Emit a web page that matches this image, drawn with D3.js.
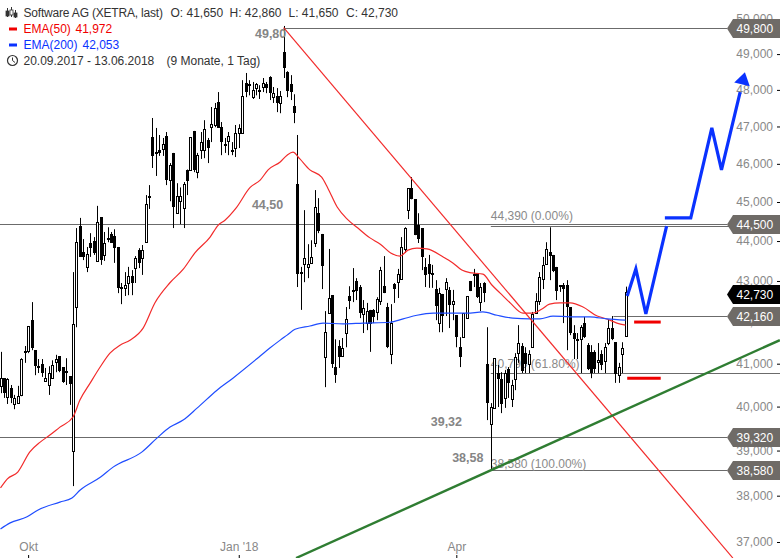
<!DOCTYPE html>
<html><head><meta charset="utf-8">
<script src="https://cdn.jsdelivr.net/npm/d3@7"></script>
<style>html,body{margin:0;padding:0;background:#fff}svg{display:block}text{font-family:"Liberation Sans",Arial,sans-serif;font-size:12px}</style>
</head><body><svg id="c" width="780" height="558"></svg>
<script>
const opens=[40.48,40.66,40.22,40.43,40.06,40.08,40.27,41.30,41.30,42.04,
41.32,40.94,40.99,40.59,40.50,40.66,41.04,41.18,40.92,40.83,
40.71,38.99,42.36,44.38,43.72,43.35,43.95,44.00,43.50,44.61,
43.65,44.08,44.18,44.12,43.85,42.85,42.83,42.95,43.12,43.32,
43.77,43.57,43.97,45.15,46.71,46.29,46.37,46.39,46.74,45.57,
46.29,44.71,45.02,44.84,45.85,45.85,46.88,45.78,46.37,46.37,
46.63,46.98,47.04,47.66,46.98,46.53,46.61,46.37,46.42,46.82,
46.82,48.19,48.16,47.80,48.05,47.99,48.08,48.16,48.36,47.80,
47.83,47.64,49.06,48.50,48.16,47.55,45.47,43.22,43.42,43.35,
43.45,43.95,44.71,44.18,41.15,42.21,42.65,40.92,41.42,41.18,
41.73,42.63,42.78,43.00,42.85,42.19,41.97,42.29,42.29,42.24,
42.50,42.87,42.36,41.23,42.92,42.97,43.05,43.80,44.79,45.36,
45.07,44.40,44.33,43.35,43.42,43.20,42.80,41.97,42.68,42.80,
42.78,42.43,42.16,41.39,41.63,42.09,43.00,43.17,43.20,42.48,
42.95,40.99,39.60,39.97,40.78,40.64,40.20,40.87,40.17,40.64,
41.25,41.42,41.25,40.99,41.39,42.21,42.50,43.05,43.42,43.72,
43.65,43.35,42.90,42.90,42.90,42.36,41.73,41.58,41.58,41.97,
41.44,41.28,41.28,41.04,41.23,41.06,41.49,41.85,41.51,40.73,41.23,41.65];
const highs=[41.28,40.66,40.66,40.50,40.27,40.48,41.13,41.42,41.90,42.48,
41.32,41.11,41.11,40.90,40.94,41.08,41.21,41.18,40.92,41.13,
40.71,43.22,44.33,44.59,44.05,43.85,44.20,44.10,44.90,44.61,
44.23,44.35,44.23,44.30,43.85,42.95,43.22,43.35,43.27,43.62,
43.82,43.90,45.18,45.44,47.23,46.96,46.77,46.69,46.85,46.02,
46.29,45.49,45.38,45.52,45.85,46.71,46.88,46.29,46.85,47.17,
46.69,47.53,47.64,47.94,47.12,46.69,46.85,46.58,47.04,47.06,
48.27,48.47,48.27,48.22,48.19,48.13,48.33,48.22,48.38,48.08,
48.05,47.97,49.80,48.52,48.41,47.88,46.77,43.35,44.79,43.92,
44.02,45.31,45.10,44.18,42.26,43.80,42.65,41.58,41.56,41.61,
42.36,42.87,43.32,43.07,42.90,42.53,42.46,42.29,42.31,42.60,
43.35,43.62,42.46,42.43,42.95,43.30,44.10,44.35,45.36,45.65,
45.07,44.71,44.33,43.57,43.65,43.40,43.02,42.83,42.68,43.07,
42.85,42.78,42.16,41.63,42.21,42.63,43.00,43.30,43.20,42.95,
42.97,41.87,40.08,41.13,40.97,40.80,40.85,40.92,40.62,41.25,
41.92,41.49,41.39,41.32,42.24,42.70,43.22,43.60,43.97,44.35,
43.65,43.35,42.90,42.95,43.02,42.36,41.92,41.73,41.92,42.12,
41.49,41.44,41.32,41.49,41.32,41.49,42.07,42.14,41.51,41.02,41.51,42.86];
const lows=[40.31,40.20,40.06,40.08,39.94,40.08,40.24,41.02,41.25,41.32,
40.73,40.78,40.69,40.59,40.27,40.66,40.80,40.80,40.55,40.50,
40.04,38.21,41.87,43.60,43.52,43.22,43.60,43.65,43.50,43.40,
43.50,43.97,43.95,43.45,42.70,42.43,42.63,42.65,42.65,42.95,
43.32,43.15,43.97,44.82,45.89,45.68,46.21,46.21,45.44,45.02,
44.33,44.71,44.43,44.33,45.18,45.85,45.78,45.62,46.13,46.15,
46.02,46.58,46.98,46.96,46.23,46.29,46.23,46.23,46.18,46.42,
46.82,47.80,47.85,47.75,47.85,47.75,47.94,47.91,47.72,47.64,
47.39,47.36,48.33,47.80,47.72,47.09,42.85,42.29,42.97,43.07,
43.45,43.85,44.20,42.80,40.45,42.21,40.90,40.55,40.90,41.16,
41.39,42.31,42.48,42.53,42.09,41.73,41.80,41.28,41.97,42.04,
42.41,42.70,41.37,40.99,42.46,42.58,43.05,43.70,44.56,45.07,
44.15,43.95,43.27,42.85,42.83,42.83,42.04,41.75,41.75,42.14,
41.85,42.04,41.39,40.92,41.63,42.09,42.75,42.85,42.58,42.26,
42.48,39.69,38.58,39.97,39.99,39.85,39.97,40.20,39.99,40.38,
41.02,40.78,40.78,40.78,41.39,42.21,42.41,42.80,43.40,43.02,
43.22,42.53,42.73,41.97,41.32,41.68,41.11,41.11,40.78,41.61,
40.85,40.66,40.78,40.78,40.85,40.78,41.44,41.56,40.55,40.55,40.78,41.65];
const closes=[40.66,40.31,40.64,40.20,40.20,40.24,41.11,41.25,41.90,41.37,
40.94,40.90,40.78,40.66,40.78,40.97,41.11,40.83,40.57,40.78,
40.52,41.95,43.97,43.60,43.60,43.67,43.82,43.70,44.48,43.52,
43.95,44.03,43.95,43.82,42.83,42.80,42.90,43.12,42.95,43.57,
43.45,43.77,44.95,45.10,46.21,46.31,46.29,46.53,45.57,45.97,
44.87,45.15,45.15,45.47,45.55,46.71,45.85,46.23,46.58,46.93,
46.42,47.06,47.50,46.96,46.58,46.47,46.74,46.31,46.82,46.96,
47.83,47.94,48.10,47.99,48.16,47.94,48.19,48.05,47.91,47.91,
47.64,47.83,48.61,47.97,47.94,47.36,43.17,43.17,43.57,43.42,
43.60,44.87,44.25,43.37,41.75,42.58,40.99,40.73,41.16,41.37,
42.07,42.50,42.73,42.75,42.21,42.33,42.26,41.95,42.12,42.55,
43.27,42.70,41.39,41.97,42.80,43.17,43.85,44.33,45.36,45.07,
44.15,44.05,43.60,43.15,43.17,43.15,42.38,42.70,42.14,42.97,
42.41,42.50,41.63,41.16,42.21,42.63,42.75,43.12,42.60,42.85,
42.70,40.08,39.99,41.13,40.64,40.06,40.78,40.55,40.50,41.16,
41.49,40.83,40.99,41.23,42.19,42.50,43.10,43.40,43.80,43.62,
43.25,42.75,42.85,42.80,42.36,41.73,41.58,41.54,41.87,41.63,
40.87,40.78,40.87,41.08,40.97,41.39,41.85,41.58,40.76,40.92,41.37,42.73];

const ema50Idx=[0,2,5,8.5,11.5,14.3,17.2,21,23,26,29,31.7,34.6,37.5,41.3,44.7,49,53,56.3,60.7,63,65,68.2,72.3,75.2,77.5,81,83,84.7,86.7,89.6,93,94.8,97.5,100.4,103.5,107,110,113,115.7,118,120.6,123.5,128.2,131,133.6,136.5,139.7,142.3,144.7,147.6,151.3,154.2,156.8,159,162,165,168.7,172.8,175.6,178.5,181];
const ema50Val=[38.17,38.37,38.52,38.97,39.19,39.35,39.53,39.76,40.15,40.55,40.94,41.25,41.44,41.56,41.85,42.46,42.95,43.30,43.70,44.10,44.40,44.53,44.84,45.38,45.57,45.84,46.05,46.23,46.31,46.13,45.84,45.65,45.36,44.87,44.56,44.33,44.08,43.92,43.70,43.62,43.77,43.82,43.80,43.60,43.45,43.27,43.20,43.17,42.90,42.70,42.46,42.21,42.21,42.31,42.43,42.46,42.46,42.36,42.14,42.07,41.97,41.92];
const ema200Idx=[0,2.8,7.7,10.9,17.2,20.7,23,29,32.6,41,45.3,49.1,52.9,57,62.7,67.3,75.2,78,81,83,85.3,89.6,93.4,99.2,105,112.8,116.6,120.6,125.3,135.1,139.7,143.8,148.4,153.3,156.2,160,165,170.7,175.6,181];
const ema200Val=[37.28,37.41,37.54,37.69,37.86,37.95,38.12,38.41,38.63,38.97,39.28,39.53,39.69,39.97,40.38,40.66,41.18,41.37,41.56,41.68,41.82,41.90,41.97,41.95,41.97,41.99,42.07,42.16,42.21,42.21,42.24,42.16,42.09,42.07,42.07,42.14,42.12,42.12,42.07,42.04];

const yTicks=[37,38,39,40,41,42,43,44,45,46,47,48,49,50];
const xTickIdx=[8,69,132];
const xTickLabels=["Okt","Jan '18","Apr"];

const levelVals=[49.74,44.44,42.14,39.30,38.56];
const levelFrom=[82,-2,177.5,-2,142];
const levelTags=["49,800","44,500","42,160","39,320","38,580"];
const fibVals=[44.37,40.77];
const fibFrom=[142,142];
const lastTagVal=42.69, lastTagText="42,730";

const boldNotes=["49,80","44,50","39,32","38,58"];
const boldIdx=[73.7,72.8,124.6,130.8];
const boldVals=[49.45,44.83,39.56,38.75];
const fibNotes=["44,390 (0.00%)","40,790 (61.80%)","38,580 (100.00%)"];
const fibNoteVals=[44.54,40.90,38.62];

const redTrendIdx=[82,212.1], redTrendVal=[49.75,36.66];
const greenTrendIdx=[85.6,225.7], greenTrendVal=[36.66,41.56];
const arrowA_Idx=[181.5,184,186.9,192.9], arrowA_Val=[42.63,43.30,42.19,44.38];
const arrowB_Idx=[192.4,199.9,206,208.8,214.2], arrowB_Val=[44.59,44.59,46.96,45.84,47.94];
const supportIdx=[[183.5,191.2],[181.5,191.2]], supportVal=[41.995,40.66];

const svg=d3.select("#c");
const W=780,H=558;
const x=d3.scaleLinear().domain([0,181]).range([0.5,625.5]);
const y=d3.scaleLog().domain([37,50]).range([542,19]);
const axisEnd=727;
const line=d3.line().x(d=>x(d[0])).y(d=>y(d[1]));
const smooth=d3.line().x(d=>x(d[0])).y(d=>y(d[1])).curve(d3.curveMonotoneX);
const zip=(a,b)=>a.map((v,i)=>[v,b[i]]);
const cr=v=>Math.round(v)+0.5;

svg.append("defs").append("clipPath").attr("id","plot").append("rect").attr("width",W).attr("height",H);
const root=svg.append("g").attr("clip-path","url(#plot)");

const grey="#6b6b6b";
levelVals.forEach((v,i)=>root.append("line").attr("x1",Math.max(0,x(levelFrom[i]))).attr("x2",axisEnd)
  .attr("y1",cr(y(v))).attr("y2",cr(y(v))).attr("stroke",grey).attr("stroke-width",1));
fibVals.forEach((v,i)=>root.append("line").attr("x1",x(fibFrom[i])).attr("x2",W)
  .attr("y1",cr(y(v))).attr("y2",cr(y(v))).attr("stroke",grey).attr("stroke-width",1));

fibNotes.forEach((t,i)=>root.append("text").attr("x",x(142)).attr("y",y(fibNoteVals[i]))
  .attr("fill","#8a8a8a").text(t));

const idx=d3.range(opens.length);
const g=root.append("g");
g.selectAll("line.w").data(idx).join("line").attr("class","w")
  .attr("x1",i=>cr(x(i))).attr("x2",i=>cr(x(i)))
  .attr("y1",i=>y(highs[i])).attr("y2",i=>y(lows[i]))
  .attr("stroke","#000").attr("stroke-width",1);
g.selectAll("rect.b").data(idx).join("rect").attr("class","b")
  .each(function(i){
    const up=closes[i]>=opens[i];
    const t=Math.round(y(Math.max(opens[i],closes[i]))), b=Math.round(y(Math.min(opens[i],closes[i])));
    const s=d3.select(this);
    if(up){ s.attr("x",cr(x(i))-1).attr("width",2).attr("y",t+0.5).attr("height",Math.max(1,b-t))
      .attr("fill","#fff").attr("stroke","#000").attr("stroke-width",1);}
    else { s.attr("x",cr(x(i))-1.5).attr("width",3).attr("y",t).attr("height",Math.max(2,b-t)).attr("fill","#000");}
  });

root.append("path").attr("d",smooth(zip(ema50Idx,ema50Val))).attr("fill","none").attr("stroke","#f22b2b").attr("stroke-width",1.2);
root.append("path").attr("d",smooth(zip(ema200Idx,ema200Val))).attr("fill","none").attr("stroke","#1f4dff").attr("stroke-width",1.2);

root.append("path").attr("d",line(zip(redTrendIdx,redTrendVal))).attr("fill","none").attr("stroke","#f22b2b").attr("stroke-width",1.2);
root.append("path").attr("d",line(zip(greenTrendIdx,greenTrendVal))).attr("fill","none").attr("stroke","#2f7d32").attr("stroke-width",2.4);

boldNotes.forEach((t,i)=>root.append("text").attr("x",x(boldIdx[i])).attr("y",y(boldVals[i]))
  .attr("fill","#858585").attr("font-weight","bold").style("font-size","12.5px").text(t));

const fmt=v=>d3.format(".3f")(v).replace(".",",");
const ya=svg.append("g").attr("transform","translate(777,0)")
  .call(d3.axisLeft(y).tickValues(yTicks).tickFormat(fmt).tickSizeInner(-3).tickSizeOuter(0).tickPadding(4));
ya.select(".domain").remove();
ya.selectAll("text").attr("fill","#888").style("font-size","12px");
ya.selectAll("line").attr("stroke","#000");
const xa=svg.append("g").attr("transform","translate(0,555)")
  .call(d3.axisTop(x).tickValues(xTickIdx).tickFormat((d,i)=>xTickLabels[i]).tickSizeInner(-3).tickSizeOuter(0).tickPadding(4));
xa.select(".domain").remove();
xa.selectAll("text").attr("fill","#888").style("font-size","12px");
xa.selectAll("line").attr("stroke","#000");

function tag(v,t,fill){
  const c=Math.round(y(v))+0.5;
  svg.append("path").attr("d",`M727,${c}L733,${c-9.5}H780V${c+9.5}H733Z`).attr("fill",fill);
  svg.append("text").attr("x",736.5).attr("y",c+4.5).attr("fill","#fff").text(t);
}
levelVals.forEach((v,i)=>tag(v,levelTags[i],"#6f6b67"));
tag(lastTagVal,lastTagText,"#000");

const blue="#0a32ff";
svg.append("path").attr("d",line(zip(arrowA_Idx,arrowA_Val))).attr("fill","none").attr("stroke",blue).attr("stroke-width",3.2);
svg.append("path").attr("d",line(zip(arrowB_Idx,arrowB_Val))).attr("fill","none").attr("stroke",blue).attr("stroke-width",3.2);
const n=arrowB_Idx.length-1;
const px=x(arrowB_Idx[n]),py=y(arrowB_Val[n]),qx=x(arrowB_Idx[n-1]),qy=y(arrowB_Val[n-1]);
const ang=Math.atan2(py-qy,px-qx);
const baseD=8,tipD=20.5,hw=8;
const pt=(a,b)=>[px+a*Math.cos(ang)-b*Math.sin(ang),py+a*Math.sin(ang)+b*Math.cos(ang)];
svg.append("polygon").attr("points",[pt(tipD,0),pt(baseD,hw),pt(baseD,-hw)].map(d=>d.join(",")).join(" ")).attr("fill",blue);
supportVal.forEach((v,i)=>svg.append("line").attr("x1",x(supportIdx[i][0])).attr("x2",x(supportIdx[i][1]))
  .attr("y1",y(v)).attr("y2",y(v)).attr("stroke","#f00000").attr("stroke-width",3));

const dark="#333";
const head=[["Software AG (XETRA, last)",23.5,139.5],["O: 41,650",170.5],["H: 42,860",229.5],["L: 41,650",288.5],["C: 42,730",346]];
head.forEach(d=>{const t=svg.append("text").attr("x",d[1]).attr("y",17).attr("fill",dark).text(d[0]);
  if(d[2])t.attr("textLength",d[2]).attr("lengthAdjust","spacing");});
[[9,6,16,8,13],[13,5,16,7,12],[17,8,17,10,14]].forEach((c,i)=>{
  svg.append("line").attr("x1",c[0]-1.5).attr("x2",c[0]-1.5).attr("y1",c[1]+2).attr("y2",c[2]+1).attr("stroke",dark);
  svg.append("rect").attr("x",c[0]-3).attr("y",c[3]+3).attr("width",3).attr("height",c[4]-c[3]).attr("fill",i==1?"#fff":dark).attr("stroke",dark).attr("stroke-width",.8);
});
svg.append("line").attr("x1",9).attr("x2",17).attr("y1",29).attr("y2",29).attr("stroke","#f00000").attr("stroke-width",3);
svg.append("text").attr("x",23.5).attr("y",33).attr("fill","#f00000").text("EMA(50)");
svg.append("text").attr("x",75.5).attr("y",33).attr("fill","#f00000").text("41,972");
svg.append("line").attr("x1",9).attr("x2",17).attr("y1",45).attr("y2",45).attr("stroke","#0a32ff").attr("stroke-width",3);
svg.append("text").attr("x",23.5).attr("y",49).attr("fill","#0a32ff").text("EMA(200)");
svg.append("text").attr("x",82.5).attr("y",49).attr("fill","#0a32ff").text("42,053");
svg.append("circle").attr("cx",12.5).attr("cy",60.5).attr("r",5).attr("fill","none").attr("stroke",dark).attr("stroke-width",1.2);
svg.append("path").attr("d","M12.5,57.5V60.5L15,62.5").attr("fill","none").attr("stroke",dark).attr("stroke-width",1);
svg.append("text").attr("x",23.5).attr("y",65).attr("fill",dark).text("20.09.2017 - 13.06.2018");
svg.append("text").attr("x",166.5).attr("y",65).attr("fill",dark).text("(9 Monate, 1 Tag)");
</script></body></html>
